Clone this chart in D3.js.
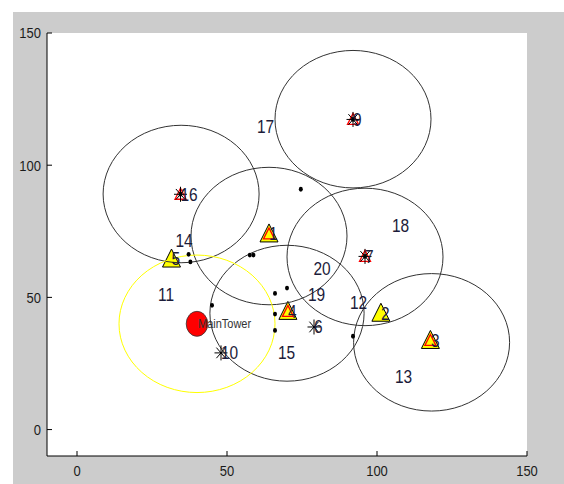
<!DOCTYPE html>
<html>
<head>
<meta charset="utf-8">
<script src="https://cdn.jsdelivr.net/npm/d3@7"></script>
<style>
  body { margin: 0; background: #ffffff; }
  text { font-family: "Liberation Sans", Arial, sans-serif; }
</style>
</head>
<body>
<div id="plot"></div>
<script>
// sensing ranges: centre + radius (data units)
var rangeCircles = [
  { x: 92, y: 117.4, r: 26 },
  { x: 34.7, y: 89.1, r: 26 },
  { x: 64, y: 73.2, r: 26 },
  { x: 96, y: 65.3, r: 26 },
  { x: 70, y: 44, r: 25.7 },
  { x: 118.2, y: 33, r: 26 }
];
var towerRange = { x: 40, y: 40, r: 26 };
var tower = { x: 40, y: 40, name: "MainTower" };

// node labels
var nodeLabels = ["1", "2", "3", "4", "5", "6", "7", "9", "10", "11", "12", "13", "14", "15", "16", "17", "18", "19", "20"];
var nodeX = [64, 101.3, 118, 70.3, 31.5, 79, 96, 92, 48, 27, 91, 106, 32.8, 67, 34.5, 60, 105, 77, 78.8];
var nodeY = [74, 44, 33.7, 44.7, 64.5, 38.8, 65.5, 117.3, 29, 51, 48, 20.2, 71.3, 29, 89, 114.5, 77, 51, 61];

// marker groups
var headX = [64, 101.3, 117.8, 70.3, 31.5];          // yellow triangles
var headY = [74, 44, 33.7, 44.7, 64.5];
var redX = [64, 117.8, 70.3, 92, 34.5, 96];          // red triangles
var redY = [74, 33.7, 44.7, 117.3, 89, 65.5];
var starX = [79, 96, 92, 48, 34.5];                  // asterisks
var starY = [38.8, 65.5, 117.3, 29, 89];
var dotX = [34.5, 92, 96, 74.6, 57.6, 58.8, 37.2, 37.8, 66, 70, 45, 66, 66, 92];
var dotY = [89, 117.3, 65.5, 90.9, 66, 66, 66.3, 63.4, 51.5, 53.5, 47, 43.7, 37.5, 35.3];

var xTicks = [0, 50, 100, 150];
var yTicks = [0, 50, 100, 150];

var svgWidth = 564;
var svgHeight = 484;
var sy = 1.18; // picture is a bit stretched vertically

var svg = d3.select("#plot").append("svg")
    .attr("width", svgWidth)
    .attr("height", svgHeight);

// figure background
svg.append("rect")
    .attr("x", 13).attr("y", 12)
    .attr("width", svgWidth - 13).attr("height", svgHeight - 12)
    .attr("fill", "#cccccc");

var x = d3.scaleLinear().domain([-10, 150]).range([47, 527]);
var y = d3.scaleLinear().domain([-10, 150]).range([456, 33]);

// axes area
svg.append("rect")
    .attr("x", x(-10)).attr("y", y(150))
    .attr("width", x(150) - x(-10)).attr("height", y(-10) - y(150))
    .attr("fill", "#ffffff");

var plot = svg.append("g");

function rx(r) { return x(r) - x(0); }
function ry(r) { return y(0) - y(r); }

// yellow triangles (drawn first)
plot.selectAll(".head")
    .data(d3.range(headX.length))
    .enter().append("path")
    .attr("class", "head")
    .attr("d", function(i) {
      var cx = x(headX[i]), cy = y(headY[i]);
      return "M" + cx + "," + (cy - 10) + "L" + (cx + 9) + "," + (cy + 8) + "L" + (cx - 9) + "," + (cy + 8) + "Z";
    })
    .attr("fill", "#ffff00")
    .attr("stroke", "#000")
    .attr("stroke-width", 1);

// red triangles
plot.selectAll(".red")
    .data(d3.range(redX.length))
    .enter().append("path")
    .attr("class", "red")
    .attr("d", function(i) {
      var cx = x(redX[i]), cy = y(redY[i]);
      return "M" + cx + "," + (cy - 6) + "L" + (cx + 5.5) + "," + (cy + 5) + "L" + (cx - 5.5) + "," + (cy + 5) + "Z";
    })
    .attr("fill", "none")
    .attr("stroke", "#ff0000")
    .attr("stroke-width", 1.3);

// range circles
plot.selectAll(".range")
    .data(rangeCircles)
    .enter().append("ellipse")
    .attr("class", "range")
    .attr("cx", d => x(d.x))
    .attr("cy", d => y(d.y))
    .attr("rx", d => rx(d.r))
    .attr("ry", d => ry(d.r))
    .attr("fill", "none")
    .attr("stroke", "#333333")
    .attr("stroke-width", 1);

plot.append("ellipse")
    .attr("cx", x(towerRange.x))
    .attr("cy", y(towerRange.y))
    .attr("rx", rx(towerRange.r))
    .attr("ry", ry(towerRange.r))
    .attr("fill", "none")
    .attr("stroke", "#ffff00")
    .attr("stroke-width", 1);

// asterisks
plot.selectAll(".star")
    .data(d3.range(starX.length))
    .enter().append("path")
    .attr("class", "star")
    .attr("d", function(i) {
      var cx = x(starX[i]), cy = y(starY[i]);
      var a = 6.5, b = 7.5, c = 4.6, e = 5.3;
      return "M" + (cx - a) + "," + cy + "H" + (cx + a) +
        "M" + cx + "," + (cy - b) + "V" + (cy + b) +
        "M" + (cx - c) + "," + (cy - e) + "L" + (cx + c) + "," + (cy + e) +
        "M" + (cx - c) + "," + (cy + e) + "L" + (cx + c) + "," + (cy - e);
    })
    .attr("stroke", "#000")
    .attr("stroke-width", 1)
    .attr("fill", "none");

// dots
plot.selectAll(".dot")
    .data(d3.range(dotX.length))
    .enter().append("ellipse")
    .attr("class", "dot")
    .attr("cx", i => x(dotX[i]))
    .attr("cy", i => y(dotY[i]))
    .attr("rx", 2)
    .attr("ry", 2.4)
    .attr("fill", "#000");

// main tower
plot.append("ellipse")
    .attr("cx", x(tower.x))
    .attr("cy", y(tower.y))
    .attr("rx", 10.8)
    .attr("ry", 12.5)
    .attr("fill", "#ff0000")
    .attr("stroke", "#333")
    .attr("stroke-width", 0.8);

plot.append("text")
    .attr("transform", `translate(${x(tower.x) + 1}, ${y(tower.y)}) scale(1, ${sy})`)
    .attr("dy", "0.35em")
    .attr("font-size", 11)
    .attr("fill", "#333")
    .text(tower.name);

// node numbers
plot.selectAll(".lbl")
    .data(d3.range(nodeLabels.length))
    .enter().append("text")
    .attr("class", "lbl")
    .attr("transform", i => `translate(${x(nodeX[i])}, ${y(nodeY[i])}) scale(1, ${sy})`)
    .attr("dy", "0.35em")
    .attr("font-size", 15.5)
    .attr("fill", "#1c1c3a")
    .text(i => nodeLabels[i]);

// axes (ticks inward like matlab)
var axisG = svg.append("g");
axisG.append("line")
    .attr("x1", x(-10)).attr("x2", x(-10))
    .attr("y1", y(150)).attr("y2", y(-10))
    .attr("stroke", "#000");
axisG.append("line")
    .attr("x1", x(-10)).attr("x2", x(150))
    .attr("y1", y(-10)).attr("y2", y(-10))
    .attr("stroke", "#000");

axisG.selectAll(".xt")
    .data(xTicks)
    .enter().append("line")
    .attr("x1", d => x(d)).attr("x2", d => x(d))
    .attr("y1", y(-10)).attr("y2", y(-10) - 5)
    .attr("stroke", "#000");
axisG.selectAll(".yt")
    .data(yTicks)
    .enter().append("line")
    .attr("x1", x(-10)).attr("x2", x(-10) + 5)
    .attr("y1", d => y(d)).attr("y2", d => y(d))
    .attr("stroke", "#000");

axisG.selectAll(".xl")
    .data(xTicks)
    .enter().append("text")
    .attr("transform", d => `translate(${x(d)}, ${y(-10) + 8}) scale(1, ${sy})`)
    .attr("dy", "0.75em")
    .attr("text-anchor", "middle")
    .attr("font-size", 13)
    .attr("fill", "#1a1a1a")
    .text(d => d);
axisG.selectAll(".yl")
    .data(yTicks)
    .enter().append("text")
    .attr("transform", d => `translate(${x(-10) - 6}, ${y(d)}) scale(1, ${sy})`)
    .attr("dy", "0.35em")
    .attr("text-anchor", "end")
    .attr("font-size", 13)
    .attr("fill", "#1a1a1a")
    .text(d => d);
</script>
</body>
</html>
